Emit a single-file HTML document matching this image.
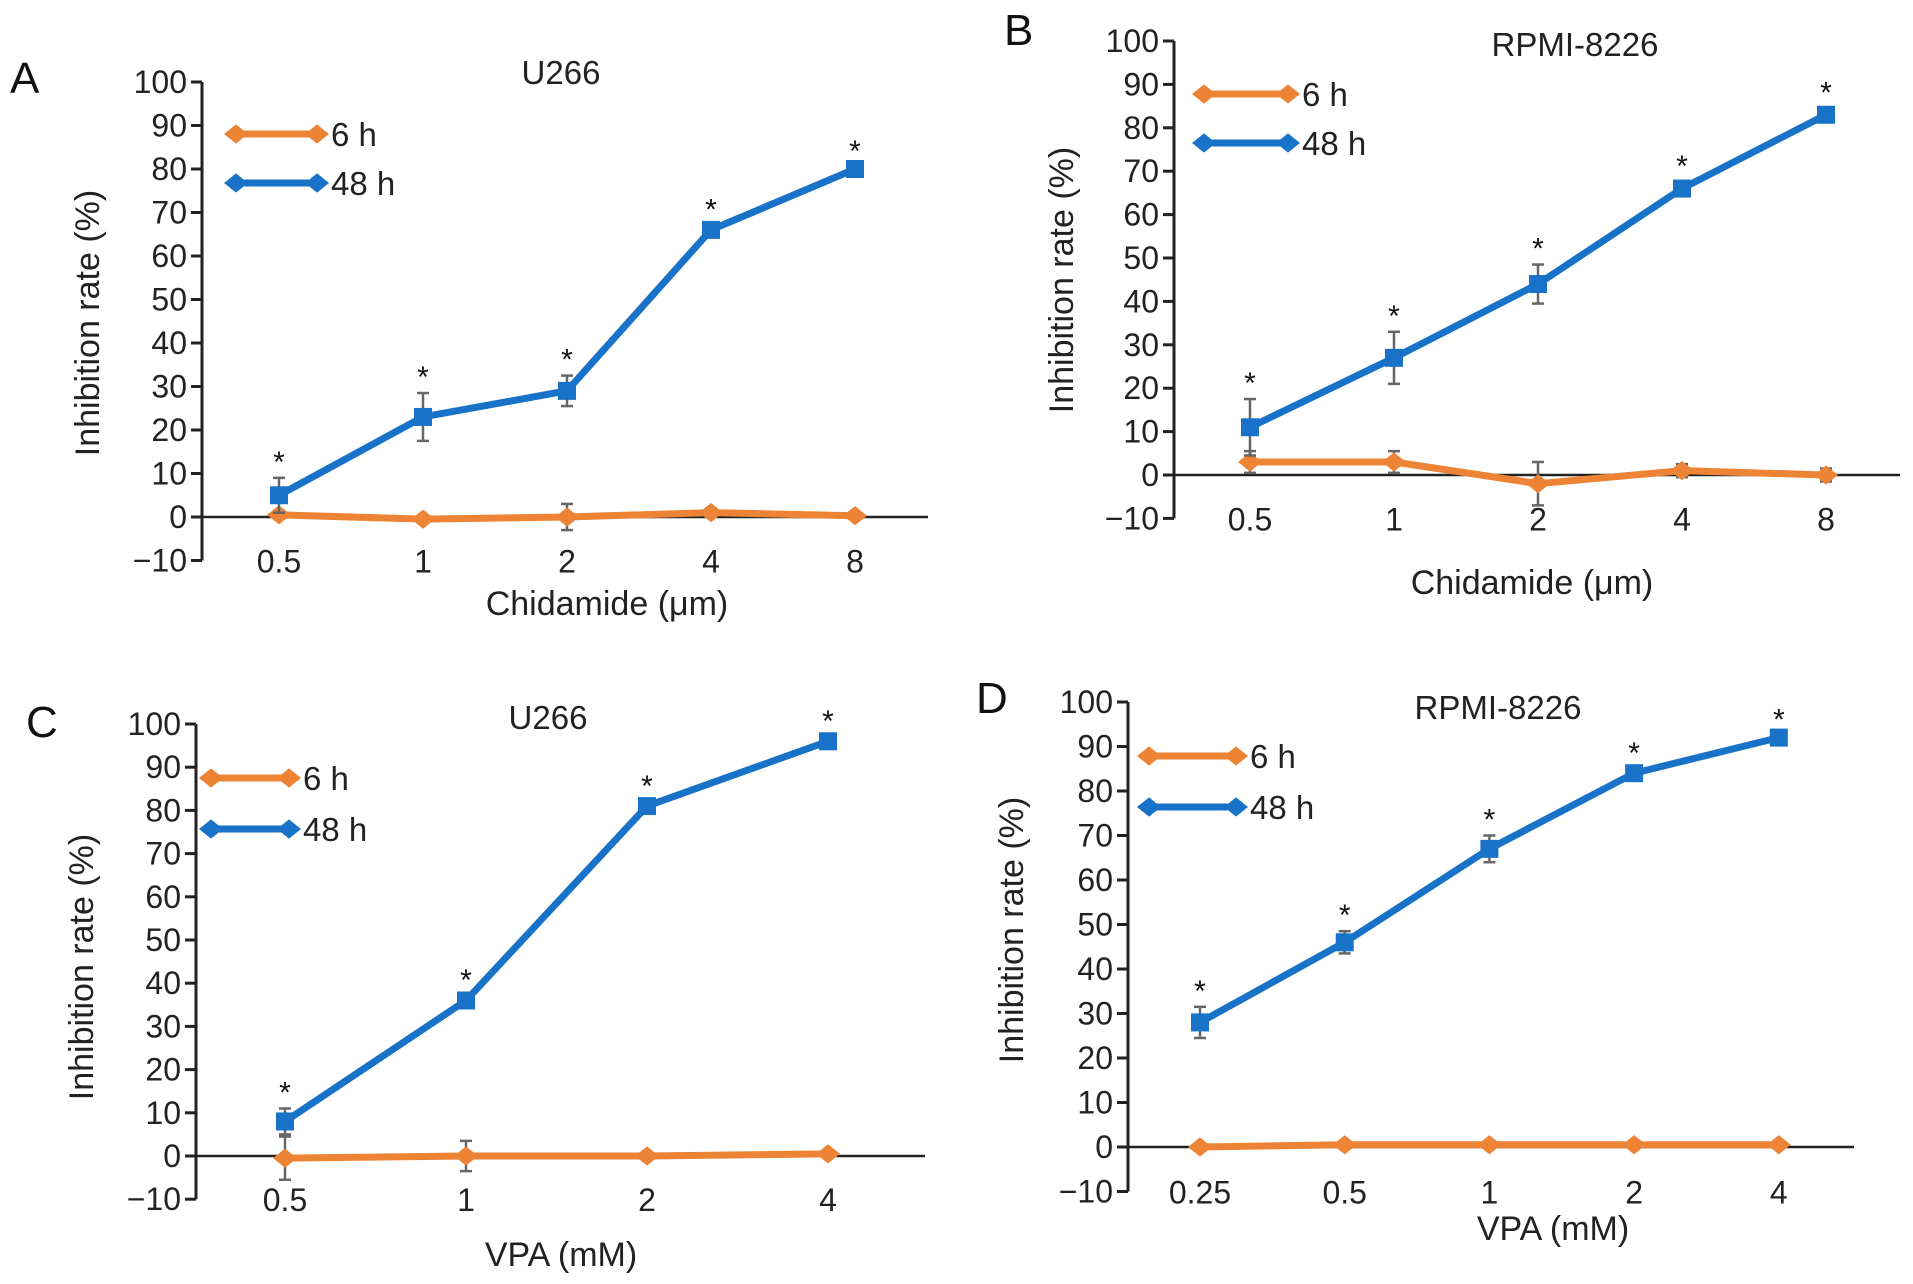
<!DOCTYPE html>
<html><head><meta charset="utf-8"><style>
html,body{margin:0;padding:0;background:#fff;}
svg{display:block;font-family:"Liberation Sans",Arial,sans-serif;}
</style></head><body>
<svg id="fig" width="1913" height="1284" viewBox="0 0 1913 1284" xmlns="http://www.w3.org/2000/svg"></svg>
<script>
// Panel A data
const catsA = ["0.5","1","2","4","8"];
const h48A = [5, 23, 29, 66, 80];
const h48ErrA = [4, 5.5, 3.5, 1, 0.5];
const h6A = [0.5, -0.5, 0, 1, 0.3];
const h6ErrA = [0.5, 0.5, 3, 1, 0.5];
// Panel B data
const catsB = ["0.5","1","2","4","8"];
const h48B = [11, 27, 44, 66, 83];
const h48ErrB = [6.5, 6, 4.5, 1.5, 1.5];
const h6B = [3, 3, -2, 1, 0];
const h6ErrB = [2.5, 2.5, 5, 1.5, 1.5];
// Panel C data
const catsC = ["0.5","1","2","4"];
const h48C = [8, 36, 81, 96];
const h48ErrC = [3, 1, 1, 1];
const h6C = [-0.5, 0, 0, 0.5];
const h6ErrC = [5, 3.5, 0.5, 0.5];
// Panel D data
const catsD = ["0.25","0.5","1","2","4"];
const h48D = [28, 46, 67, 84, 92];
const h48ErrD = [3.5, 2.5, 3, 1, 0.5];
const h6D = [0, 0.5, 0.5, 0.5, 0.5];
const h6ErrD = [0.5, 0.5, 0.5, 0.5, 0.5];
const yTicks = [-10,0,10,20,30,40,50,60,70,80,90,100];
const legendLabels = ["6 h","48 h"];

const NS = "http://www.w3.org/2000/svg";
const svg = document.getElementById('fig');
const ORANGE = "#ec8335", BLUE = "#1872c8";
function mk(tag, attrs, parent, text){
  const e = document.createElementNS(NS, tag);
  for (const k in attrs) e.setAttribute(k, attrs[k]);
  if (text !== undefined) e.textContent = text;
  (parent || svg).appendChild(e);
  return e;
}
function diamond(g, cx, cy, r, col){
  return mk('polygon',{points:`${cx-r},${cy} ${cx},${cy-r*0.8} ${cx+r},${cy} ${cx},${cy+r*0.8}`,fill:col},g);
}
function panel(p){
  const g = mk('g',{});
  
  
  const y = v => p.y0 + (p.y100 - p.y0) * v / 100;
  const x = i => p.x0 + i * p.dx;
  const L = mk('text',{x:p.letter[0],y:p.letter[1],'font-size':44,fill:'#111'},g,p.id);
   
  const T = mk('text',{x:p.title[0],y:p.title[1],'font-size':33,'text-anchor':'middle',fill:'#222'},g,p.titleText);
   
  const ya = mk('line',{x1:p.ax,y1:y(100),x2:p.ax,y2:y(-10),stroke:'#222','stroke-width':3},g);
   
  yTicks.forEach(t=>{
    mk('line',{x1:p.ax-11,y1:y(t),x2:p.ax,y2:y(t),stroke:'#222','stroke-width':3},g);
    const tl = mk('text',{x:p.ax-15,y:y(t)+11,'font-size':32,'text-anchor':'end',fill:'#222'},g,(t<0?'\u2212'+(-t):String(t)));
     
  });
  const xa = mk('line',{x1:p.ax,y1:y(0),x2:p.xend,y2:y(0),stroke:'#222','stroke-width':2.5},g);
   
  p.cats.forEach((c,i)=>{
    const xl = mk('text',{x:x(i),y:y(-10)+12,'font-size':32,'text-anchor':'middle',fill:'#222'},g,c);
     
  });
  const yt = mk('text',{x:0,y:0,'font-size':34,'text-anchor':'middle',fill:'#222',transform:`translate(${p.ytitle[0]},${p.ytitle[1]}) rotate(-90)`},g,'Inhibition rate (%)');
   
  const xt = mk('text',{x:p.xtitle[0],y:p.xtitle[1],'font-size':34,'text-anchor':'middle',fill:'#222'},g,p.xtitleText);
   
  const series = [[p.h6,p.h6e,ORANGE,'series-6h'],[p.h48,p.h48e,BLUE,'series-48h']];
  series.forEach(([vals,errs,col,name])=>{
    const sg = mk('g',{},g);
     
    vals.forEach((v,i)=>{
      const e = errs[i], cx = x(i);
      mk('line',{x1:cx,y1:y(v+e),x2:cx,y2:y(v-e),stroke:'#666','stroke-width':2.5},sg);
      mk('line',{x1:cx-6,y1:y(v+e),x2:cx+6,y2:y(v+e),stroke:'#666','stroke-width':2.5},sg);
      mk('line',{x1:cx-6,y1:y(v-e),x2:cx+6,y2:y(v-e),stroke:'#666','stroke-width':2.5},sg);
    });
    mk('polyline',{points:vals.map((v,i)=>`${x(i)},${y(v)}`).join(' '),fill:'none',stroke:col,'stroke-width':7,'stroke-linejoin':'round'},sg);
    vals.forEach((v,i)=>{
      let m;
      if (col===BLUE) m = mk('rect',{x:x(i)-9,y:y(v)-9,width:18,height:18,fill:col},sg);
      else m = diamond(sg,x(i),y(v),12,col);
       
    });
  });
  p.h48.forEach((v,i)=>{
    const s = mk('text',{x:x(i),y:y(v+p.h48e[i])-6,'font-size':30,'text-anchor':'middle',fill:'#111'},g,'*');
     
  });
  [[ORANGE,p.leg[2]],[BLUE,p.leg[3]]].forEach(([col,ly],k)=>{
    const lg = mk('g',{},g);
     
    mk('line',{x1:p.leg[0],y1:ly,x2:p.leg[1],y2:ly,stroke:col,'stroke-width':7},lg);
    diamond(lg,p.leg[0],ly,12,col); diamond(lg,p.leg[1],ly,12,col);
    mk('text',{x:p.leg[1]+14,y:ly+12,'font-size':33,fill:'#222'},lg,legendLabels[k]);
  });
}
panel({id:'A',titleText:'U266',xtitleText:'Chidamide (\u03bcm)',cats:catsA,h48:h48A,h48e:h48ErrA,h6:h6A,h6e:h6ErrA,
  ax:202,y0:517,y100:82,x0:279,dx:144,xend:928,letter:[10,93],title:[561,84],ytitle:[99,323],xtitle:[607,615],leg:[236,317,134,183]});
panel({id:'B',titleText:'RPMI-8226',xtitleText:'Chidamide (\u03bcm)',cats:catsB,h48:h48B,h48e:h48ErrB,h6:h6B,h6e:h6ErrB,
  ax:1174,y0:475,y100:41,x0:1250,dx:144,xend:1900,letter:[1004,45],title:[1575,56],ytitle:[1073,280],xtitle:[1532,594],leg:[1204,1288,94,143]});
panel({id:'C',titleText:'U266',xtitleText:'VPA (mM)',cats:catsC,h48:h48C,h48e:h48ErrC,h6:h6C,h6e:h6ErrC,
  ax:196,y0:1156,y100:724,x0:285,dx:181,xend:925,letter:[26,737],title:[548,729],ytitle:[93,967],xtitle:[561,1266],leg:[211,289,778,829]});
panel({id:'D',titleText:'RPMI-8226',xtitleText:'VPA (mM)',cats:catsD,h48:h48D,h48e:h48ErrD,h6:h6D,h6e:h6ErrD,
  ax:1128,y0:1147,y100:702,x0:1200,dx:144.7,xend:1854,letter:[976,713],title:[1498,719],ytitle:[1023,930],xtitle:[1553,1240],leg:[1149,1236,756,807]});
</script>
</body></html>
